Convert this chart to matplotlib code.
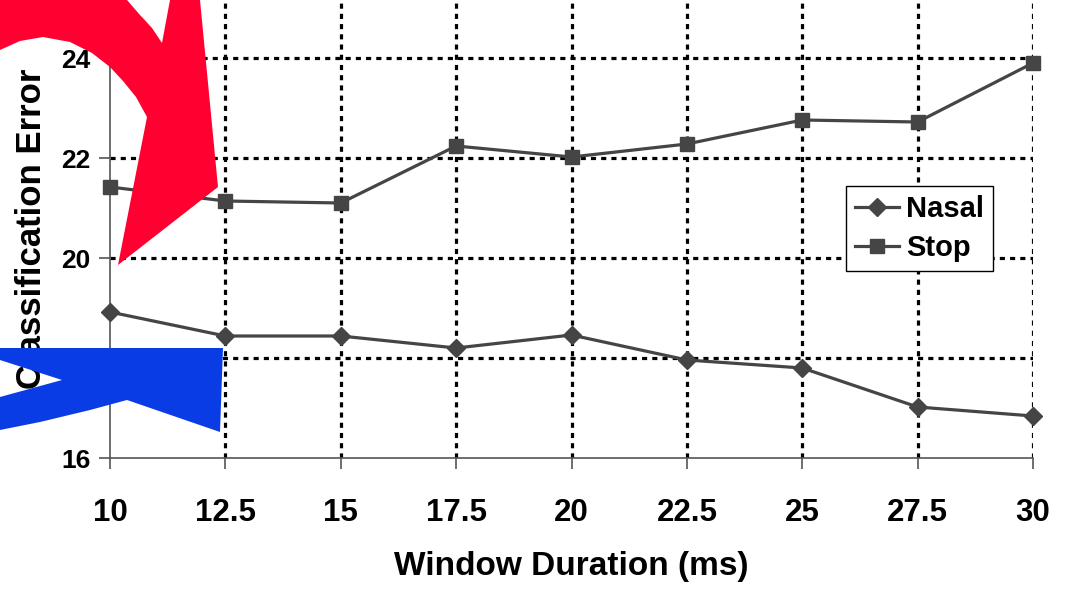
import matplotlib.pyplot as plt
from matplotlib.patches import Polygon

# durées de fenêtre (ms) et erreurs
window_ms = [10, 12.5, 15, 17.5, 20, 22.5, 25, 27.5, 30]
nasal = [18.92, 18.44, 18.44, 18.20, 18.46, 17.96, 17.80, 17.02, 16.84]
stop = [21.42, 21.14, 21.10, 22.24, 22.02, 22.28, 22.76, 22.72, 23.90]
xtick_labels = ['10', '12.5', '15', '17.5', '20', '22.5', '25', '27.5', '30']
yticks = [16, 18, 20, 22, 24]

W, H = 1078, 589
plt.rcParams['font.family'] = ['Liberation Sans', 'DejaVu Sans']
plt.rcParams['font.weight'] = 'bold'

fig = plt.figure(figsize=(W / 100, H / 100), dpi=100)
ax = fig.add_axes([110 / W, 1 - 458 / H, (1033 - 110) / W, 458 / H])

line_col = '#454545'
ax.plot(window_ms, nasal, color=line_col, lw=2.3, marker='D', markersize=9.5,
        label='Nasal', clip_on=False, zorder=4)
ax.plot(window_ms, stop, color=line_col, lw=2.3, marker='s', markersize=9.5,
        label='Stop', clip_on=False, zorder=4)

ax.set_xlim(10, 30)
ax.set_ylim(16, 16 + 458 / 50)
ax.set_xticks(window_ms)
ax.set_xticklabels(xtick_labels, fontsize=22.5, fontweight='bold')
ax.set_yticks(yticks)
ax.set_yticklabels([str(v) for v in yticks], fontsize=19, fontweight='bold')
ax.tick_params(axis='x', length=8, width=1.2, color='#555555', pad=21)
ax.tick_params(axis='y', length=8, width=1.2, color='#555555', pad=6)

# grille pointillée noire (sauf sur les axes eux-mêmes)
ax.grid(True, color='black', linestyle=(0, (1.6, 1.6)), linewidth=2.3, zorder=1)
ax.set_axisbelow(True)
ax.xaxis.get_gridlines()[0].set_visible(False)
ax.yaxis.get_gridlines()[0].set_visible(False)
for s in ['top', 'right']:
    ax.spines[s].set_visible(False)
for s in ['left', 'bottom']:
    ax.spines[s].set_color('#555555')
    ax.spines[s].set_linewidth(1.2)

ax.set_xlabel('Window Duration (ms)', fontsize=24, fontweight='bold')
ax.xaxis.set_label_coords(571 / W, 1 - 567 / H, transform=fig.transFigure)
ax.xaxis.label.set_va('center')
ax.set_ylabel('Classification Error', fontsize=25, fontweight='bold')
ax.yaxis.set_label_coords(32 / W, 1 - 229 / H, transform=fig.transFigure)
ax.yaxis.label.set_va('center')

leg = ax.legend(loc='upper left', bbox_to_anchor=(846 / W, 1 - 186 / H),
                bbox_transform=fig.transFigure, borderaxespad=0,
                prop={'size': 21, 'weight': 'bold'}, frameon=True,
                fancybox=False, framealpha=1, handlelength=1.5,
                handletextpad=0.25, borderpad=0.3, labelspacing=0.4)
leg.get_frame().set_edgecolor('black')
leg.get_frame().set_linewidth(1.0)
leg.set_zorder(6)


def px(points):
    return [(x / W, 1 - y / H) for x, y in points]


# flèches décoratives par-dessus le graphique
red = [(0, 0), (127, 0), (140, 15), (152, 28), (162, 43), (170, 0), (200, 0),
       (218, 187), (118, 265), (147, 117), (136, 97), (123, 81), (110, 67),
       (92, 53), (70, 42), (43, 37), (20, 41), (0, 50)]
blue = [(0, 348), (223, 348), (220, 432), (127, 400), (90, 410), (40, 422),
        (0, 430), (0, 397), (62, 380), (0, 360)]
fig.add_artist(Polygon(px(red), closed=True, facecolor='#ff0030',
                       edgecolor='none', transform=fig.transFigure, zorder=10))
fig.add_artist(Polygon(px(blue), closed=True, facecolor='#0a3ce6',
                       edgecolor='none', transform=fig.transFigure, zorder=10))

fig.savefig('out.png', dpi=100)
